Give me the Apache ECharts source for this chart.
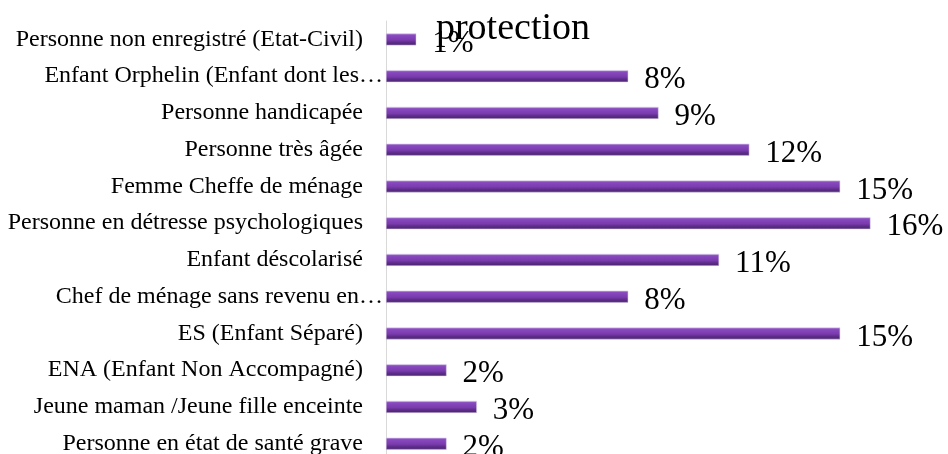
<!DOCTYPE html>
<html><head><meta charset="utf-8">
<script src="https://cdn.jsdelivr.net/npm/echarts@6/dist/echarts.min.js"></script>
<style>html,body{margin:0;padding:0;background:#fff}#c{width:948px;height:454px}</style>
</head><body><div id="c"></div>
<script>
const categories = [
  "Personne non enregistré (Etat-Civil)",
  "Enfant Orphelin (Enfant dont les…",
  "Personne handicapée",
  "Personne très âgée",
  "Femme Cheffe de ménage",
  "Personne en détresse psychologiques",
  "Enfant déscolarisé",
  "Chef de ménage sans revenu en…",
  "ES (Enfant Séparé)",
  "ENA (Enfant Non Accompagné)",
  "Jeune maman /Jeune fille enceinte",
  "Personne en état de santé grave"
];
const values = [1, 8, 9, 12, 15, 16, 11, 8, 15, 2, 3, 2];
const titleText = "protection";

const chart = echarts.init(document.getElementById('c'), null, {renderer: 'canvas'});
const serif = "'Liberation Serif', 'DejaVu Serif', serif";
const yData = categories.map(c => c.endsWith('…')
  ? {value: c, textStyle: {padding: [0, 0, 0, 0]}}
  : c);
chart.setOption({
  animation: false,
  title: {
    text: titleText, left: 508, top: 5, textAlign: 'center',
    textStyle: {fontFamily: serif, fontSize: 38, fontWeight: 'normal', color: '#000'}
  },
  grid: {left: 386, top: 21, height: 441, width: 545, containLabel: false, outerBoundsMode: 'none'},
  xAxis: {
    type: 'value', min: 0, max: 18, show: false
  },
  yAxis: {
    type: 'category', data: yData, inverse: true,
    axisLine: {show: true, lineStyle: {color: '#d9d9d9', width: 1}},
    axisTick: {show: false},
    axisLabel: {margin: 3, padding: [0, 20, 0, 0], fontFamily: serif, fontSize: 24, color: '#000'}
  },
  series: [{
    type: 'bar', data: values, barWidth: 12,
    itemStyle: {
      color: new echarts.graphic.LinearGradient(0, 0, 0, 1, [
        {offset: 0, color: '#b596d8'},
        {offset: 0.15, color: '#8a4ac0'},
        {offset: 0.55, color: '#7a3bae'},
        {offset: 0.75, color: '#5e2d8a'},
        {offset: 1, color: '#4a2470'}
      ]),
      borderColor: '#d8cce4', borderWidth: 0.5
    },
    label: {
      show: true, position: 'right', distance: 16, offset: [0, 4],
      formatter: p => p.value + '%',
      fontFamily: serif, fontSize: 31, color: '#000'
    }
  }]
});
</script></body></html>
